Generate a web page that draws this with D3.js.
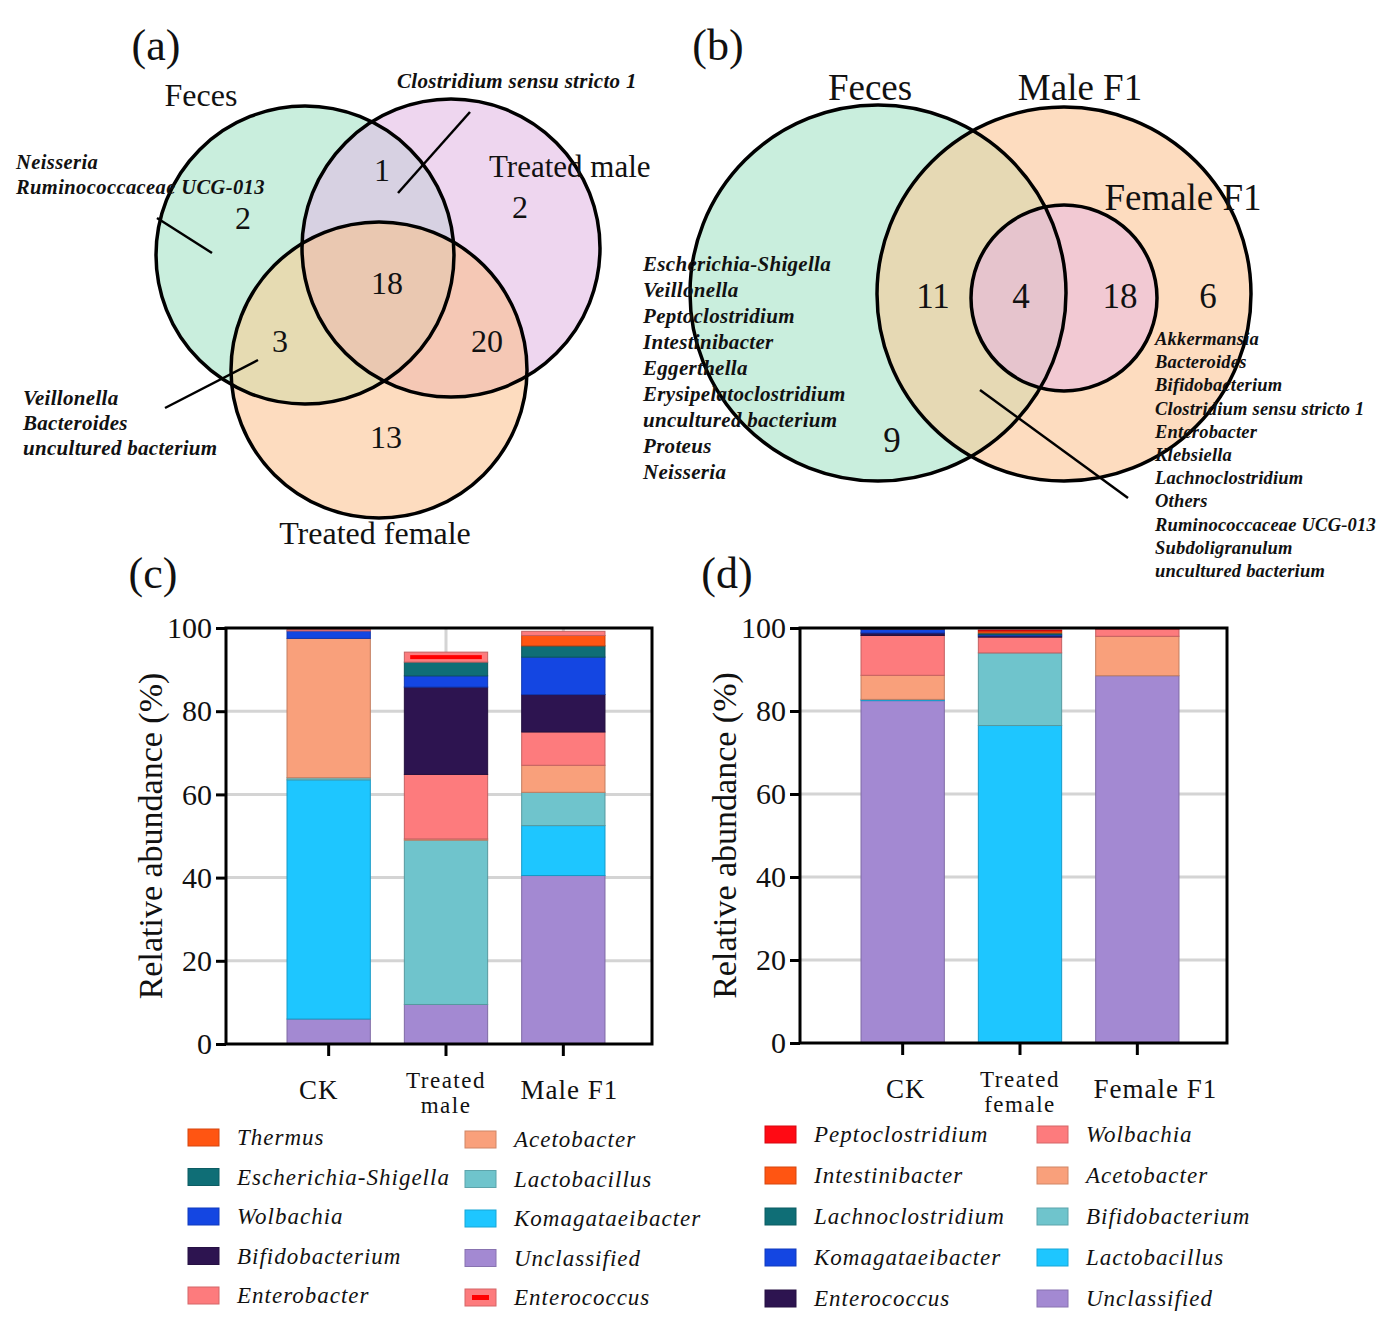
<!DOCTYPE html>
<html lang="en">
<head>
<meta charset="UTF-8">
<title>Venn and relative abundance</title>
<script src="https://cdn.jsdelivr.net/npm/d3@7"></script>
<style>
    body { margin: 0; background: #fff; }
    svg text { font-family: "Liberation Serif", "Times New Roman", Times, "DejaVu Serif", serif; fill: #111; }
    .sp { font-style: italic; font-weight: bold; }
    .leg { font-style: italic; letter-spacing: 1px; }
</style>
</head>
<body>
<script>
// ---- data ----
// Venn (a)
var aSets = ["Feces", "Treated male", "Treated female"];
var aCounts = [2, 1, 2, 18, 3, 20, 13]; // F only, F&M, M only, all, F&Fe, M&Fe, Fe only
var aNoteTop = ["Clostridium sensu stricto 1"];
var aNoteLeft = ["Neisseria", "Ruminococcaceae UCG-013"];
var aNoteLow = ["Veillonella", "Bacteroides", "uncultured bacterium"];

// Venn (b)
var bSets = ["Feces", "Male F1", "Female F1"];
var bCounts = [9, 11, 4, 18, 6]; // feces only, feces&male, all, male&female, male only
var bNoteLeft = ["Escherichia-Shigella", "Veillonella", "Peptoclostridium", "Intestinibacter",
    "Eggerthella", "Erysipelatoclostridium", "uncultured bacterium", "Proteus", "Neisseria"];
var bNoteRight = ["Akkermansia", "Bacteroides", "Bifidobacterium", "Clostridium sensu stricto 1",
    "Enterobacter", "Klebsiella", "Lachnoclostridium", "Others", "Ruminococcaceae UCG-013",
    "Subdoligranulum", "uncultured bacterium"];

// Bars (c): stack order bottom -> top
var cGroups = ["CK", "Treated male", "Male F1"];
var cTickLabels = [["CK"], ["Treated", "male"], ["Male F1"]];
var cSpecies = ["Unclassified", "Komagataeibacter", "Lactobacillus", "Acetobacter", "Enterobacter",
    "Bifidobacterium", "Wolbachia", "Escherichia-Shigella", "Thermus", "Enterococcus"];
var cValues = [
    [6.0, 9.5, 40.5],
    [57.5, 0, 12.0],
    [0.5, 39.5, 8.0],
    [33.5, 0.3, 6.5],
    [0, 15.5, 8.0],
    [0, 21.0, 9.0],
    [1.8, 2.7, 9.0],
    [0, 3.3, 2.7],
    [0, 0, 2.5],
    [0.4, 2.4, 1.0]
];
var cLegend = [["Thermus", "Escherichia-Shigella", "Wolbachia", "Bifidobacterium", "Enterobacter"],
    ["Acetobacter", "Lactobacillus", "Komagataeibacter", "Unclassified", "Enterococcus"]];

// Bars (d)
var dGroups = ["CK", "Treated female", "Female F1"];
var dTickLabels = [["CK"], ["Treated", "female"], ["Female F1"]];
var dSpecies = ["Unclassified", "Lactobacillus", "Bifidobacterium", "Acetobacter", "Wolbachia",
    "Enterococcus", "Komagataeibacter", "Lachnoclostridium", "Intestinibacter", "Peptoclostridium"];
var dValues = [
    [82.5, 0, 88.5],
    [0.3, 76.5, 0],
    [0, 17.5, 0],
    [5.8, 0, 9.5],
    [9.6, 3.8, 1.8],
    [0.6, 0.3, 0],
    [0.9, 0.3, 0],
    [0.1, 0.4, 0],
    [0, 0.5, 0],
    [0.1, 0.2, 0.2]
];
var dLegend = [["Peptoclostridium", "Intestinibacter", "Lachnoclostridium", "Komagataeibacter", "Enterococcus"],
    ["Wolbachia", "Acetobacter", "Bifidobacterium", "Lactobacillus", "Unclassified"]];

// palettes
var cColors = {
    "Thermus": "#ff5512", "Escherichia-Shigella": "#0f6e76", "Wolbachia": "#1446e2",
    "Bifidobacterium": "#2d1450", "Enterobacter": "#fd7b7d", "Acetobacter": "#f9a07b",
    "Lactobacillus": "#6fc4cc", "Komagataeibacter": "#1ec6ff", "Unclassified": "#a389d2",
    "Enterococcus": "#fd7b7d"
};
var dColors = {
    "Peptoclostridium": "#ff0a14", "Intestinibacter": "#ff5512", "Lachnoclostridium": "#0f6e76",
    "Komagataeibacter": "#1446e2", "Enterococcus": "#2d1450", "Wolbachia": "#fd7b7d",
    "Acetobacter": "#f9a07b", "Bifidobacterium": "#6fc4cc", "Lactobacillus": "#1ec6ff",
    "Unclassified": "#a389d2"
};

var W = 1394, H = 1322;
var svg = d3.select("body").append("svg").attr("width", W).attr("height", H);
svg.append("rect").attr("width", W).attr("height", H).attr("fill", "#fff");
var defs = svg.append("defs");

function clip(id, c) {
    defs.append("clipPath").attr("id", id)
        .append("circle").attr("cx", c.x).attr("cy", c.y).attr("r", c.r);
}
function disc(g, c, fill) {
    return g.append("circle").attr("cx", c.x).attr("cy", c.y).attr("r", c.r).attr("fill", fill);
}
function label(txt, x, y, size, anchor, cls) {
    return svg.append("text").attr("x", x).attr("y", y).attr("font-size", size)
        .attr("text-anchor", anchor || "start").attr("class", cls || null).text(txt);
}
function line(x1, y1, x2, y2) {
    svg.append("line").attr("x1", x1).attr("y1", y1).attr("x2", x2).attr("y2", y2)
        .attr("stroke", "#000").attr("stroke-width", 2.5);
}

// ---- Venn (a) ----
var ca = [{x: 305, y: 255, r: 149}, {x: 451, y: 248, r: 149}, {x: 379, y: 370, r: 148}];
ca.forEach(function(c, i) { clip("ca" + i, c); });
var va = svg.append("g");
disc(va, ca[0], "#c9eedd");
disc(va, ca[1], "#eed6ef");
disc(va, ca[2], "#fddcbf");
disc(va.append("g").attr("clip-path", "url(#ca0)"), ca[1], "#d7d1e2");
disc(va.append("g").attr("clip-path", "url(#ca0)"), ca[2], "#e6dbb2");
disc(va.append("g").attr("clip-path", "url(#ca1)"), ca[2], "#f5c8b5");
disc(va.append("g").attr("clip-path", "url(#ca0)").append("g").attr("clip-path", "url(#ca1)"), ca[2], "#eac8b1");
ca.forEach(function(c) {
    va.append("circle").attr("cx", c.x).attr("cy", c.y).attr("r", c.r)
        .attr("fill", "none").attr("stroke", "#000").attr("stroke-width", 3.5);
});
var aPos = [[243, 218], [382, 170], [520, 207], [387, 283], [280, 341], [487, 341], [386, 437]];
aCounts.forEach(function(n, i) { label(n, aPos[i][0], aPos[i][1] + 11, 32, "middle"); });
label("(a)", 156, 60, 44, "middle");
label(aSets[0], 201, 106, 32, "middle");
label(aSets[1], 489, 177, 31, "start");
label(aSets[2], 375, 544, 32, "middle");
label(aNoteTop[0], 397, 88, 21, "start", "sp").attr("letter-spacing", 0.3);
aNoteLeft.forEach(function(t, i) { label(t, 16, 169 + i * 25, 20.5, "start", "sp").attr("letter-spacing", 0.4); });
aNoteLow.forEach(function(t, i) { label(t, 23, 405 + i * 25, 21, "start", "sp").attr("letter-spacing", 0.3); });
line(470, 112, 398, 193);
line(157, 218, 212, 253);
line(165, 408, 258, 360);

// ---- Venn (b) ----
var cb = [{x: 878, y: 293, r: 188}, {x: 1064, y: 294, r: 187}, {x: 1064, y: 298, r: 93}];
cb.forEach(function(c, i) { clip("cb" + i, c); });
var vb = svg.append("g");
disc(vb, cb[0], "#c9eedd");
disc(vb, cb[1], "#fddcbf");
disc(vb.append("g").attr("clip-path", "url(#cb0)"), cb[1], "#e6d9b4");
disc(vb, cb[2], "#f2c9d3");
disc(vb.append("g").attr("clip-path", "url(#cb0)"), cb[2], "#e6c4cd");
cb.forEach(function(c) {
    vb.append("circle").attr("cx", c.x).attr("cy", c.y).attr("r", c.r)
        .attr("fill", "none").attr("stroke", "#000").attr("stroke-width", 3.5);
});
var bPos = [[892, 440], [933, 296], [1021, 296], [1120, 296], [1208, 296]];
bCounts.forEach(function(n, i) { label(n, bPos[i][0], bPos[i][1] + 12, 35, "middle"); });
label("(b)", 718, 60, 44, "middle");
label(bSets[0], 870, 100, 37, "middle");
label(bSets[1], 1080, 100, 37, "middle");
label(bSets[2], 1183, 210, 37, "middle");
bNoteLeft.forEach(function(t, i) { label(t, 643, 271 + i * 26, 21, "start", "sp").attr("letter-spacing", 0.3); });
bNoteRight.forEach(function(t, i) { label(t, 1155, 345 + i * 23.2, 18.5, "start", "sp").attr("letter-spacing", 0.2); });
line(980, 390, 1128, 498);

label("(c)", 153, 588, 44, "middle");
label("(d)", 727, 588, 44, "middle");

// ---- stacked bars ----
function drawBars(cfg) {
    var g = svg.append("g");
    var x = d3.scaleBand().domain(cfg.groups)
        .range([cfg.left + 44, cfg.left + 396]).paddingInner(0.29).paddingOuter(0.145);
    var y = d3.scaleLinear().domain([0, 100]).range([cfg.top + cfg.h, cfg.top]);

    // grid
    g.selectAll(".hg").data([20, 40, 60, 80]).enter().append("line")
        .attr("x1", cfg.left).attr("x2", cfg.left + cfg.w)
        .attr("y1", function(d) { return y(d); }).attr("y2", function(d) { return y(d); })
        .attr("stroke", "#d4d4d4").attr("stroke-width", 3);
    if (cfg.vgrid) {
        g.selectAll(".vg").data(cfg.groups).enter().append("line")
            .attr("x1", function(d) { return x(d) + x.bandwidth() / 2; })
            .attr("x2", function(d) { return x(d) + x.bandwidth() / 2; })
            .attr("y1", cfg.top).attr("y2", cfg.top + cfg.h)
            .attr("stroke", "#d4d4d4").attr("stroke-width", 3);
    }

    var rows = cfg.groups.map(function(grp, j) {
        var r = {group: grp};
        cfg.species.forEach(function(s, i) { r[s] = cfg.values[i][j]; });
        return r;
    });
    var series = d3.stack().keys(cfg.species)(rows);

    series.forEach(function(s) {
        var col = cfg.colors[s.key];
        s.forEach(function(d) {
            if (d[1] - d[0] <= 0) return;
            var bx = x(d.data.group), bw = x.bandwidth();
            var by = y(d[1]), bh = y(d[0]) - y(d[1]);
            g.append("rect").attr("x", bx).attr("y", by).attr("width", bw).attr("height", bh)
                .attr("fill", col).attr("stroke", d3.color(col).darker(0.7)).attr("stroke-width", 1);
            if (cfg.inner && s.key === cfg.inner && bh - 6 > 0) {
                g.append("rect").attr("x", bx + bw * 0.07).attr("y", by + 3)
                    .attr("width", bw * 0.86).attr("height", bh - 6).attr("fill", "#ff0000");
            }
        });
    });

    // frame
    g.append("rect").attr("x", cfg.left).attr("y", cfg.top).attr("width", cfg.w).attr("height", cfg.h)
        .attr("fill", "none").attr("stroke", "#000").attr("stroke-width", 3);

    var ya = g.append("g").attr("transform", "translate(" + cfg.left + ",0)")
        .call(d3.axisLeft(y).tickValues([0, 20, 40, 60, 80, 100]).tickSize(10).tickPadding(4));
    ya.attr("font-family", null);
    ya.select(".domain").remove();
    ya.selectAll("line").attr("stroke", "#000").attr("stroke-width", 3);
    ya.selectAll("text").attr("font-size", 30).attr("fill", "#111");

    var xa = g.append("g").attr("transform", "translate(0," + (cfg.top + cfg.h) + ")")
        .call(d3.axisBottom(x).tickSize(12).tickFormat(""));
    xa.select(".domain").remove();
    xa.selectAll("line").attr("stroke", "#000").attr("stroke-width", 3);

    cfg.tickLabels.forEach(function(lines, j) {
        var cx = x(cfg.groups[j]) + x.bandwidth() / 2 + cfg.labelShift[j];
        if (lines.length === 1) {
            g.append("text").attr("text-anchor", "middle").attr("font-size", 27).attr("letter-spacing", 1)
                .attr("x", cx).attr("y", cfg.top + cfg.h + 55).text(lines[0]);
        } else {
            lines.forEach(function(ln, k) {
                g.append("text").attr("text-anchor", "middle").attr("font-size", 23).attr("letter-spacing", 1.5)
                    .attr("x", cx).attr("y", cfg.top + cfg.h + 44 + k * 25).text(ln);
            });
        }
    });

    g.append("text").attr("transform", "translate(" + (cfg.left - 64) + "," + (cfg.top + cfg.h / 2) + ") rotate(-90)")
        .attr("text-anchor", "middle").attr("font-size", 34).text("Relative abundance (%)");

    // legend
    cfg.legend.forEach(function(col, ci) {
        col.forEach(function(name, ri) {
            var lx = cfg.legX[ci], ly = cfg.legY[ci] + ri * cfg.legStep;
            var c = cfg.colors[name];
            g.append("rect").attr("x", lx).attr("y", ly - 8).attr("width", 31).attr("height", 17)
                .attr("fill", c).attr("stroke", d3.color(c).darker(0.5)).attr("stroke-width", 1);
            if (cfg.inner && name === cfg.inner) {
                g.append("rect").attr("x", lx + 7).attr("y", ly - 2).attr("width", 17).attr("height", 5)
                    .attr("fill", "#ff0000");
            }
            g.append("text").attr("class", "leg").attr("x", lx + 49).attr("y", ly + 8)
                .attr("font-size", 23).text(name);
        });
    });
}

drawBars({
    left: 226, top: 628, w: 426, h: 416, groups: cGroups, tickLabels: cTickLabels,
    species: cSpecies, values: cValues, colors: cColors, inner: "Enterococcus", vgrid: true,
    labelShift: [-10, 0, 6],
    legend: cLegend, legX: [188, 465], legY: [1137, 1139], legStep: 39.5
});
drawBars({
    left: 800, top: 628, w: 427, h: 415, groups: dGroups, tickLabels: dTickLabels,
    species: dSpecies, values: dValues, colors: dColors, inner: null, vgrid: false,
    labelShift: [3, 0, 18],
    legend: dLegend, legX: [765, 1037], legY: [1134, 1134], legStep: 41
});
</script>
</body>
</html>
